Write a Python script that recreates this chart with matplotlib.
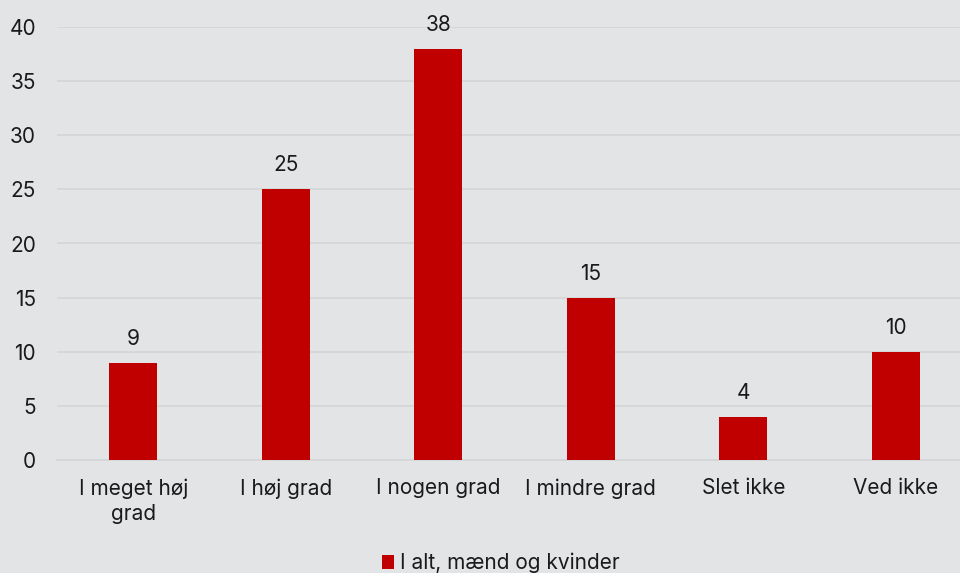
import matplotlib
matplotlib.use("Agg")
import matplotlib.pyplot as plt
from matplotlib.patches import Patch

categories = ["I meget høj\ngrad", "I høj grad", "I nogen grad", "I mindre grad", "Slet ikke", "Ved ikke"]
values = [9, 25, 38, 15, 4, 10]
series_name = "I alt, mænd og kvinder"
yticks = [0, 5, 10, 15, 20, 25, 30, 35, 40]

bg = "#e3e4e6"
bar_color = "#c00000"
grid_color = "#d5d6d8"
fs = 15

plt.rcParams['font.family'] = ['Inter', 'DejaVu Sans']

fig = plt.figure(figsize=(9.6, 5.73), dpi=100)
fig.patch.set_facecolor(bg)
ax = fig.add_axes([57/960, 1-460/573, 915/960, (460-27)/573])
ax.set_facecolor(bg)

x = list(range(len(categories)))
ax.bar(x, values, width=0.315, color=bar_color, zorder=3)
for xi, v in zip(x, values):
    ax.text(xi, v + 1.3, str(v), ha="center", va="bottom", fontsize=fs, color="#1a1a1a")

ax.set_xlim(-0.5, len(categories) - 0.5)
ax.set_ylim(0, 40)
ax.set_yticks(yticks)
ax.set_yticklabels([str(t) for t in yticks], fontsize=fs, color="#1a1a1a")
ax.set_xticks(x)
ax.set_xticklabels(categories, fontsize=fs, color="#1a1a1a", linespacing=1.35)
ax.tick_params(axis="both", length=0)
ax.tick_params(axis="x", pad=13)
ax.tick_params(axis="y", pad=15)
ax.grid(axis="y", color=grid_color, linewidth=1.3, zorder=0)
for s in ["top", "right", "left"]:
    ax.spines[s].set_visible(False)
ax.spines["bottom"].set_color(grid_color)
ax.spines["bottom"].set_linewidth(1.3)

handle = Patch(facecolor=bar_color, edgecolor="none")
fig.legend([handle], [series_name], loc="center", bbox_to_anchor=(501/960, 1-563/573),
           frameon=False, fontsize=fs, handlelength=0.6, handleheight=0.6,
           handletextpad=0.3, labelcolor="#1a1a1a")

fig.savefig("out.png", dpi=100, facecolor=bg)
